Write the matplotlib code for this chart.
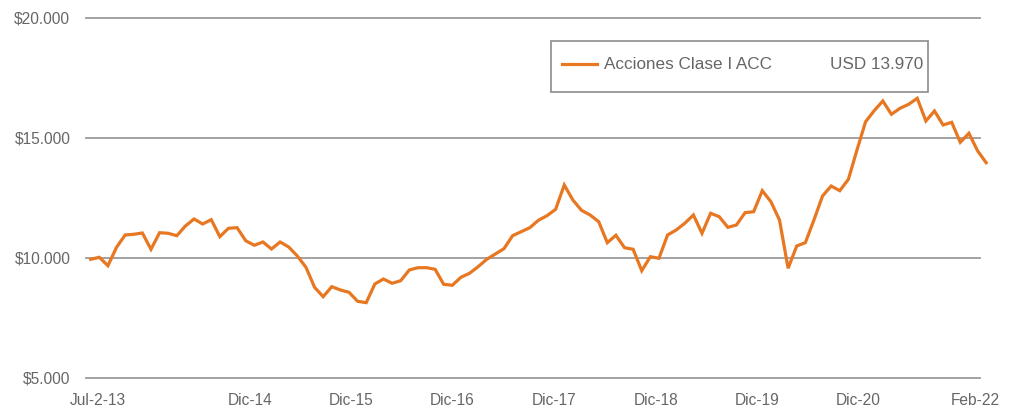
import matplotlib
matplotlib.use("Agg")
import matplotlib.pyplot as plt
from matplotlib import font_manager
from matplotlib.patches import Rectangle
from matplotlib.lines import Line2D

# ---------------- data ----------------
values = [
    9946, 10029, 9679, 10446, 10958, 10988, 11042, 10363, 11054, 11029,
    10929, 11333, 11625, 11417, 11596, 10888, 11238, 11263, 10721, 10529,
    10667, 10375, 10667, 10458, 10083, 9613, 8779, 8388, 8804, 8667,
    8571, 8196, 8138, 8917, 9125, 8946, 9054, 9500, 9596, 9596,
    9529, 8904, 8863, 9196, 9363, 9638, 9946, 10167, 10388, 10929,
    11096, 11263, 11571, 11763, 12029, 13042, 12417, 11988, 11792, 11513,
    10638, 10946, 10429, 10363, 9471, 10054, 9988, 10958, 11167, 11446,
    11792, 11029, 11863, 11721, 11279, 11375, 11888, 11929, 12804, 12346,
    11583, 9571, 10500, 10638, 11583, 12583, 13000, 12804, 13279, 14500,
    15679, 16138, 16542, 15988, 16238, 16404, 16654, 15708, 16125, 15542,
    15654, 14821, 15196, 14471, 13970,
]
series_label = "Acciones Clase I ACC"
final_label = "USD 13.970"
x_tick_labels = ["Jul-2-13", "Dic-14", "Dic-15", "Dic-16", "Dic-17",
                 "Dic-18", "Dic-19", "Dic-20", "Feb-22"]
y_ticks = [5000, 10000, 15000, 20000]
y_tick_labels = ["$5.000", "$10.000", "$15.000", "$20.000"]

# ---------------- style / layout ----------------
x_tick_pos = [0.79, 18.5, 30.2, 41.96, 53.8, 65.65, 77.4, 89.1, 102.8]
ORANGE = "#E87722"
TEXT = "#666666"
GRID = "#9a9a9a"

names = {f.name for f in font_manager.fontManager.ttflist}
if "Liberation Sans Narrow" in names:
    FAMILY = "Liberation Sans Narrow"
    TICK_FS, LEG_FS = 12.5, 14
else:
    FAMILY = "Liberation Sans"
    TICK_FS, LEG_FS = 11.2, 12.3
plt.rcParams["font.family"] = [FAMILY, "DejaVu Sans"]

W, H = 1014, 417
fig = plt.figure(figsize=(W / 100, H / 100), dpi=100)
L_px, R_px, T_px, B_px = 80, 995, 10, 385
ax = fig.add_axes([L_px / W, (H - B_px) / H, (R_px - L_px) / W, (B_px - T_px) / H])

x = list(range(len(values)))
ax.plot(x, values, color=ORANGE, lw=2.3, solid_joinstyle="miter", zorder=3, clip_on=False)

ax.set_xlim(-1.243, 105.03)
ax.set_ylim(4708, 20333)

gx0 = (86 - L_px) / (R_px - L_px)
gx1 = (980 - L_px) / (R_px - L_px)
for yv in y_ticks:
    ax.axhline(yv, xmin=gx0, xmax=gx1, color=GRID, lw=1.3, zorder=1)

for s in ax.spines.values():
    s.set_visible(False)
ax.set_yticks(y_ticks)
ax.set_yticklabels(y_tick_labels)
ax.set_xticks(x_tick_pos)
ax.set_xticklabels(x_tick_labels)
ax.tick_params(axis="both", length=0, colors=TEXT, labelsize=TICK_FS)
ax.tick_params(axis="y", pad=7)
ax.tick_params(axis="x", pad=6)

# legend box
def fx(px):
    return (px - L_px) / (R_px - L_px)

def fy(py):
    return (B_px - py) / (B_px - T_px)

ax.add_patch(Rectangle((fx(551), fy(92)), fx(928) - fx(551), fy(41) - fy(92),
                       transform=ax.transAxes, facecolor="white",
                       edgecolor="#8c8c8c", lw=1.2, zorder=4))
ax.add_line(Line2D([fx(562), fx(597)], [fy(64), fy(64)], transform=ax.transAxes,
                   color=ORANGE, lw=2.3, zorder=5))
ax.text(fx(604), fy(64), series_label, transform=ax.transAxes, ha="left",
        va="center", color=TEXT, fontsize=LEG_FS, zorder=5)
ax.text(fx(923), fy(64), final_label, transform=ax.transAxes, ha="right",
        va="center", color=TEXT, fontsize=LEG_FS, zorder=5)

fig.savefig("out.png", dpi=100)
